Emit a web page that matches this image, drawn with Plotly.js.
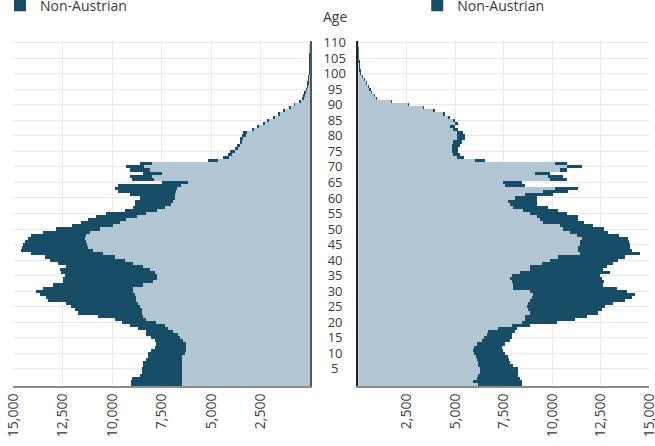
<!DOCTYPE html>
<html>
<head>
<meta charset="utf-8">
<script src="https://cdn.plot.ly/plotly-3.0.1.min.js"></script>
<style>
html,body{margin:0;padding:0;background:#fff;}
#chart{width:655px;height:446px;}
</style>
</head>
<body>
<div id="chart"></div>
<script>
// Ages (single years)
const ages = [0,1,2,3,4,5,6,7,8,9,10,11,12,13,14,15,16,17,18,19,20,21,22,23,24,25,26,27,28,29,30,31,32,33,34,35,36,37,38,39,40,41,42,43,44,45,46,47,48,49,50,51,52,53,54,55,56,57,58,59,60,61,62,63,64,65,66,67,68,69,70,71,72,73,74,75,76,77,78,79,80,81,82,83,84,85,86,87,88,89,90,91,92,93,94,95,96,97,98,99,100,101,102,103,104,105,106,107,108,109,110];

// Left panel
const leftAustrian = [6490,6490,6490,6490,6490,6490,6490,6490,6490,6440,6320,6240,6240,6240,6400,6580,6660,6910,7170,7330,7760,8260,8430,8510,8510,8600,8680,8770,8770,8850,8930,8930,8430,7920,7750,7750,7840,8090,8430,8930,9350,9860,10450,10960,11210,11260,11330,11380,11330,11120,10620,9950,9610,9270,8760,8260,7750,7300,7000,6900,6800,6800,6750,6700,6500,6170,7900,8000,7500,8100,8400,8000,4640,4100,3950,3790,3620,3540,3455,3370,3250,3200,2870,2610,2310,2100,1770,1520,1300,1010,760,505,340,300,250,170,130,100,85,60,40,25,15,10,6,4,3,2,1,1,0];
const leftNonAustrian = [2530,2530,2510,2110,2020,2020,1940,1940,1770,1740,1860,1770,1600,1520,1440,1430,1600,1350,1510,1770,1760,1600,2270,3190,3370,3450,3620,4460,4540,4800,4890,4550,4550,4550,4720,4640,4720,4550,3910,3790,3800,3540,3620,3620,3330,3230,3080,2860,2740,2360,2190,2050,1940,1940,2030,2020,1600,1630,1850,1950,1800,2300,2950,3160,3200,1330,1100,1100,930,1000,870,600,500,300,200,250,170,170,85,170,170,170,80,70,70,60,60,50,45,40,35,30,25,20,18,15,12,10,8,6,5,4,3,2,1,1,1,0,0,0,0];

// Right panel
const rightAustrian = [6204,5946,6118,6204,6290,6290,6204,6204,6118,6084,5980,5946,5980,6118,6377,6497,6635,6721,7238,7927,8444,8616,8616,8875,8789,8703,8789,8875,8961,9047,8875,8014,8014,7927,7841,7927,8358,8875,8875,9478,9910,10340,11460,11373,11373,11460,11460,11546,11287,10942,10598,10426,9565,9392,9220,8875,8530,8014,7841,7755,8100,8616,9565,10168,7583,7497,9910,9823,9134,10426,10770,10168,6030,5100,4900,4830,4830,4830,4900,5090,5090,5090,4910,4740,5000,4910,4650,4390,3880,3360,2585,1725,950,830,690,605,520,430,345,240,140,100,80,60,50,40,30,20,15,10,5];
const rightNonAustrian = [2240,2500,2240,2070,1980,1980,1810,1640,1690,1670,1600,1550,1430,1465,1465,1430,1290,1380,950,950,1810,2580,3190,3530,3790,4050,4390,4910,5170,5255,5000,5340,4650,4740,4740,4570,4650,3790,3960,3700,3530,3450,3100,2760,2670,2580,2500,2410,2155,1980,2070,1720,2070,1980,2150,1900,1810,1810,1380,1465,1120,1465,1290,1205,1030,950,860,775,775,345,775,600,520,350,350,340,340,420,450,430,430,340,260,260,170,90,70,60,50,40,35,25,25,20,18,15,12,10,8,6,5,4,3,2,2,2,1,1,1,0,0];

// Tick labels
const ageTickVals = [5,10,15,20,25,30,35,40,45,50,55,60,65,70,75,80,85,90,95,100,105,110];
const ageTickText = ['5\u2007','10\u2008','15\u2008','20\u2008','25\u2008','30\u2008','35\u2008','40\u2008','45\u2008','50\u2008','55\u2008','60\u2008','65\u2008','70\u2008','75\u2008','80\u2008','85\u2008','90\u2008','95\u2008','100','105','110'];
const popTickVals = [2500,5000,7500,10000,12500,15000];
const popTickText = ['2,500','5,000','7,500','10,000','12,500','15,000'];

const seriesNames = ['Austrian','Non-Austrian'];
const lightColor = '#b2c5d2';
const darkColor = '#174d67';

const traces = [
  {type:'bar', orientation:'h', x:leftAustrian, y:ages, xaxis:'x', yaxis:'y', name:seriesNames[0], marker:{color:lightColor}, legend:'legend', hoverinfo:'x+y'},
  {type:'bar', orientation:'h', x:leftNonAustrian, y:ages, xaxis:'x', yaxis:'y', name:seriesNames[1], marker:{color:darkColor}, legend:'legend', hoverinfo:'x+y'},
  {type:'bar', orientation:'h', x:rightAustrian, y:ages, xaxis:'x2', yaxis:'y2', name:seriesNames[0], marker:{color:lightColor}, legend:'legend2', hoverinfo:'x+y'},
  {type:'bar', orientation:'h', x:rightNonAustrian, y:ages, xaxis:'x2', yaxis:'y2', name:seriesNames[1], marker:{color:darkColor}, legend:'legend2', hoverinfo:'x+y'}
];

const gridColor = '#e9e9e9';
const xCommon = {
  tickvals: popTickVals, ticktext: popTickText, tickangle: -90,
  showgrid: true, gridcolor: gridColor, gridwidth: 1,
  zeroline: false, showline: true, linecolor: '#8c8c8c', linewidth: 2,
  ticks: '', tickfont: {size: 14, color: '#3a3a3a'}, fixedrange: true,
  ticklabeloverflow: 'allow'
};

const layout = {
  width: 655, height: 446,
  margin: {l: 13, r: 6, t: 41, b: 60, autoexpand: false},
  paper_bgcolor: '#ffffff', plot_bgcolor: '#ffffff',
  barmode: 'stack', bargap: 0,
  font: {family: '"Open Sans", "Noto Sans", sans-serif', size: 14, color: '#3a3a3a'},
  xaxis: Object.assign({}, xCommon, {domain: [0, 0.467], range: [15000, 0], anchor: 'y'}),
  xaxis2: Object.assign({}, xCommon, {domain: [0.5429, 1], range: [0, 15000], anchor: 'y2'}),
  yaxis: {
    anchor: 'x', side: 'right', range: [-0.5, 110.5], tickvals: ageTickVals,
    showticklabels: false, showgrid: true, gridcolor: gridColor, gridwidth: 1,
    zeroline: false, showline: true, linecolor: '#555555', linewidth: 1.5, ticks: '', fixedrange: true
  },
  yaxis2: {
    anchor: 'x2', side: 'left', matches: 'y', range: [-0.5, 110.5],
    tickvals: ageTickVals, ticktext: ageTickText, ticklabelstandoff: 8,
    tickfont: {size: 13, color: '#3a3a3a'},
    showgrid: true, gridcolor: gridColor, gridwidth: 1,
    zeroline: false, showline: true, linecolor: '#222222', linewidth: 1.5, ticks: '', fixedrange: true
  },
  legend: {
    xref: 'container', x: 0, xanchor: 'left', yref: 'paper', y: 1.21, yanchor: 'top',
    traceorder: 'normal', orientation: 'v', bgcolor: 'rgba(0,0,0,0)', font: {size: 14, color: '#3a3a3a'}
  },
  legend2: {
    xref: 'container', x: 0.637, xanchor: 'left', yref: 'paper', y: 1.21, yanchor: 'top',
    traceorder: 'normal', orientation: 'v', bgcolor: 'rgba(0,0,0,0)', font: {size: 14, color: '#3a3a3a'}
  },
  annotations: [{
    text: 'Age', xref: 'paper', yref: 'paper', x: 0.506, y: 1.07, xanchor: 'center', yanchor: 'middle',
    showarrow: false, font: {size: 14, color: '#3a3a3a'}
  }]
};

Plotly.newPlot('chart', traces, layout, {displayModeBar: false, responsive: false});
</script>
</body>
</html>
